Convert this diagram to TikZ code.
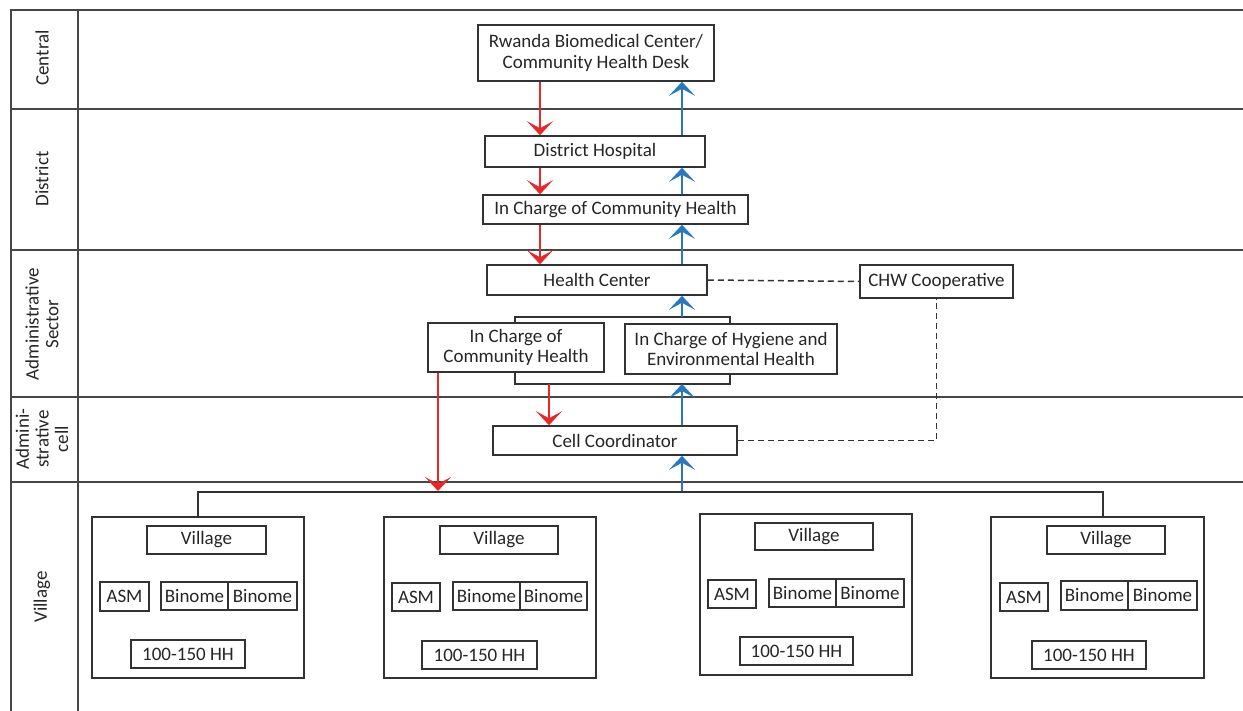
\documentclass[tikz,border=0pt]{standalone}
\usepackage{fontspec}
\setmainfont{Carlito}
\usetikzlibrary{arrows.meta}
\definecolor{arrred}{RGB}{235,38,38}
\definecolor{arrblue}{RGB}{40,120,190}
\definecolor{lanec}{RGB}{70,70,70}
\definecolor{boxc}{RGB}{50,50,50}
\newcommand\mybox[6]{\node[box, minimum width={0.5pt*(#4-#2)}, minimum height={0.5pt*(#5-#3)}] (#1) at ({(#2+#4)/2},{(#3+#5)/2}) {#6};}
\tikzset{
  box/.style={draw=boxc, line width=0.75pt, fill=white, inner sep=0pt, align=center, font=\fontsize{9.5}{10.2}\selectfont, text=black!85},
  lane/.style={draw=lanec, line width=0.8pt},
  lanelabel/.style={rotate=90, align=center, font=\fontsize{9.5}{9.8}\selectfont, text=black!85},
  redarr/.style={draw=arrred, line width=1.3pt, -{Stealth[length=7pt, width=13pt, inset=3.5pt]}},
  bluarr/.style={draw=arrblue, line width=1.3pt, -{Stealth[length=7pt, width=13pt, inset=3.5pt]}},
  link/.style={draw=boxc, line width=0.75pt},
  dlink/.style={draw=boxc, line width=0.75pt, dash pattern=on 3pt off 2pt}
}
\begin{document}
\begin{tikzpicture}[x=0.5pt, y=-0.5pt]
\useasboundingbox (0,0) rectangle (1243,711);
\fill[white] (0,0) rectangle (1243,711);
% swimlanes
\draw[lane] (1243,10) -- (11,10) -- (11,711);
\draw[lane] (78,10) -- (78,711);
\foreach \yy in {109,250,397,482} { \draw[lane] (11,\yy) -- (1243,\yy); }
\node[lanelabel] (lcentral) at (42,58) {Central};
\node[lanelabel] (ldistrict) at (42,179) {District};
\node[lanelabel] (lsector) at (42,324) {Administrative\\Sector};
\node[lanelabel] (lcell) at (42,439) {Admini-\\strative\\cell};
\node[lanelabel] (lvillage) at (42,597) {Village};
% main chain
\mybox{rbc}{478}{25}{714}{81}{Rwanda Biomedical Center/\\Community Health Desk}
\mybox{dh}{485}{136}{705}{167}{District Hospital}
\mybox{icchd}{483}{195}{748}{224}{In Charge of Community Health}
\mybox{hc}{487}{265}{707}{295}{Health Center}
\mybox{chw}{860}{265}{1013}{298}{CHW Cooperative}
\draw[link] (515,317) rectangle (730,384);
\coordinate (brtl) at (515,317);
\coordinate (brbr) at (730,384);
\mybox{icchs}{428}{323}{604}{372}{In Charge of\\Community Health}
\mybox{ihe}{625}{324}{837}{374}{In Charge of Hygiene and\\Environmental Health}
\mybox{cc}{493}{426}{737}{455}{Cell Coordinator}
% arrow columns
\coordinate (xr) at (540,0);
\coordinate (xb) at (682,0);
\coordinate (xr2) at (549,0);
\coordinate (xr3) at (438,0);
\coordinate (redend) at (438,491);
\coordinate (blustart) at (682,493);
\draw[redarr] (rbc.south -| xr) -- (dh.north -| xr);
\draw[redarr] (dh.south -| xr) -- (icchd.north -| xr);
\draw[redarr] (icchd.south -| xr) -- (hc.north -| xr);
\draw[redarr] (brbr -| xr2) -- (cc.north -| xr2);
\draw[redarr] (icchs.south -| xr3) -- (redend);
\draw[bluarr] (dh.north -| xb) -- (rbc.south -| xb);
\draw[bluarr] (icchd.north -| xb) -- (dh.south -| xb);
\draw[bluarr] (hc.north -| xb) -- (icchd.south -| xb);
\draw[bluarr] (brtl -| xb) -- (hc.south -| xb);
\draw[bluarr] (cc.north -| xb) -- (brbr -| xb);
\draw[bluarr] (blustart) -- (cc.south -| xb);
% dashed links
\draw[dlink] (hc.east) -- (chw.west);
\draw[dlink] (cc.east) -| (chw.south);
% villages
\draw[link, fill=white] (92,517) rectangle (304,678);
\mybox{va1}{147}{526}{266}{554}{Village}
\mybox{asm1}{100}{582}{149}{611}{ASM}
\mybox{ba1}{161}{582}{228}{610}{Binome}
\mybox{bb1}{228}{582}{297}{610}{Binome}
\mybox{hh1}{131}{640}{245}{668}{100-150 HH}

\draw[link] (384,517) rectangle (596,678);
\mybox{va2}{440}{526}{558}{554}{Village}
\mybox{asm2}{392}{583}{440}{611}{ASM}
\mybox{ba2}{453}{582}{520}{610}{Binome}
\mybox{bb2}{520}{582}{587}{610}{Binome}
\mybox{hh2}{422}{641}{537}{669}{100-150 HH}

\draw[link] (700,514) rectangle (912,675);
\mybox{va3}{755}{523}{873}{550}{Village}
\mybox{asm3}{708}{580}{756}{608}{ASM}
\mybox{ba3}{769}{579}{836}{607}{Binome}
\mybox{bb3}{836}{579}{904}{607}{Binome}
\mybox{hh3}{740}{637}{853}{665}{100-150 HH}

\draw[link] (991,517) rectangle (1204,678);
\mybox{va4}{1047}{526}{1165}{554}{Village}
\mybox{asm4}{1000}{583}{1048}{611}{ASM}
\mybox{ba4}{1061}{581}{1128}{610}{Binome}
\mybox{bb4}{1128}{581}{1197}{610}{Binome}
\mybox{hh4}{1032}{641}{1146}{669}{100-150 HH}
% village bracket
\draw[link] (198,517) -- (198,492) -- (1103,492) -- (1103,517);
\end{tikzpicture}
\end{document}
